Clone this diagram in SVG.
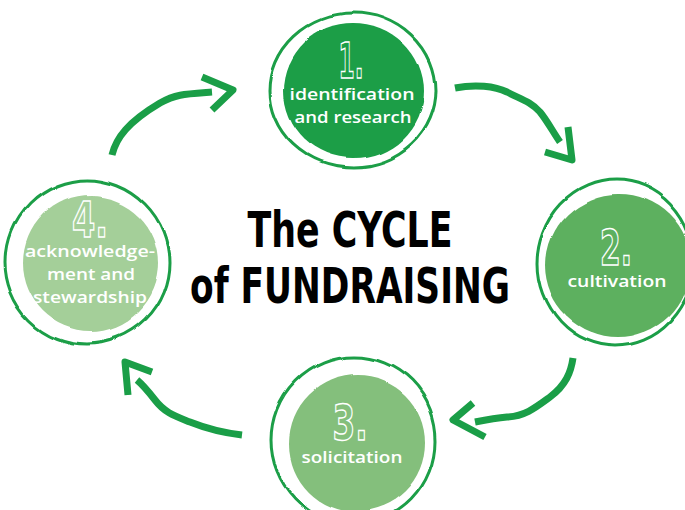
<svg xmlns="http://www.w3.org/2000/svg" width="685" height="510" viewBox="0 0 685 510">
<defs>
<filter id="wob1" x="-15%" y="-15%" width="130%" height="130%"><feTurbulence type="fractalNoise" baseFrequency="0.012" numOctaves="1" seed="4"/><feDisplacementMap in="SourceGraphic" scale="9" xChannelSelector="R" yChannelSelector="G"/></filter>
<filter id="wob2" x="-15%" y="-15%" width="130%" height="130%"><feTurbulence type="fractalNoise" baseFrequency="0.014" numOctaves="1" seed="11"/><feDisplacementMap in="SourceGraphic" scale="8" xChannelSelector="R" yChannelSelector="G"/></filter>
</defs>
<style>
.ring{fill:none;stroke:#1a9e47;stroke-width:3}
.num{font-family:"DejaVu Sans Condensed","DejaVu Sans",sans-serif;font-weight:bold;font-size:50px;stroke:#fff;stroke-width:1.5;text-anchor:middle}
.lbl{font-family:"Open Sans","Noto Sans",sans-serif;font-weight:600;font-size:16.8px;fill:#fff;text-anchor:middle}
.title{font-family:"DejaVu Sans Condensed","DejaVu Sans",sans-serif;font-weight:bold;font-size:50px;fill:#000;text-anchor:middle}
.arr{fill:none;stroke:#1a9e47;stroke-width:7;stroke-linecap:butt;stroke-linejoin:round}
</style>
<rect width="685" height="510" fill="#fff"/>
<g id="node1">
<ellipse class="ring" cx="353" cy="90" rx="82" ry="77" filter="url(#wob1)"/>
<ellipse cx="354" cy="91" rx="70" ry="67" fill="#1a9e47" filter="url(#wob2)"/>
<text class="num" x="351" y="78" fill="#1a9e47" textLength="25" lengthAdjust="spacingAndGlyphs">1.</text>
<text class="lbl" x="352" y="100" textLength="125" lengthAdjust="spacingAndGlyphs">identification</text>
<text class="lbl" x="353" y="123" textLength="117" lengthAdjust="spacingAndGlyphs">and research</text>
</g>
<g id="node2">
<ellipse class="ring" cx="615" cy="263" rx="78" ry="83" filter="url(#wob2)"/>
<ellipse cx="618" cy="266" rx="72" ry="71" fill="#5db05f" filter="url(#wob1)"/>
<text class="num" x="616" y="265" fill="#5db05f" textLength="32" lengthAdjust="spacingAndGlyphs">2.</text>
<text class="lbl" x="617" y="287" textLength="99" lengthAdjust="spacingAndGlyphs">cultivation</text>
</g>
<g id="node3">
<ellipse class="ring" cx="353" cy="440" rx="82" ry="83" filter="url(#wob1)"/>
<ellipse cx="357" cy="443" rx="68" ry="68" fill="#84bf7b" filter="url(#wob2)"/>
<text class="num" x="350" y="440" fill="#84bf7b" textLength="35" lengthAdjust="spacingAndGlyphs">3.</text>
<text class="lbl" x="352" y="463" textLength="101" lengthAdjust="spacingAndGlyphs">solicitation</text>
</g>
<g id="node4">
<ellipse class="ring" cx="87" cy="262" rx="82" ry="82" filter="url(#wob2)"/>
<ellipse cx="90" cy="263" rx="68" ry="68" fill="#a4cf99" filter="url(#wob1)"/>
<text class="num" x="90" y="237" fill="#a4cf99" textLength="36" lengthAdjust="spacingAndGlyphs">4.</text>
<text class="lbl" x="90" y="257" textLength="130" lengthAdjust="spacingAndGlyphs">acknowledge-</text>
<text class="lbl" x="91" y="280" textLength="88" lengthAdjust="spacingAndGlyphs">ment and</text>
<text class="lbl" x="90" y="303" textLength="114" lengthAdjust="spacingAndGlyphs">stewardship</text>
</g>
<g id="title">
<text class="title" x="350" y="247" textLength="205" lengthAdjust="spacingAndGlyphs">The CYCLE</text>
<text class="title" x="350" y="303" textLength="320" lengthAdjust="spacingAndGlyphs">of FUNDRAISING</text>
</g>
<g id="connectors">
<path class="arr" d="M112,155 C116,138 128,122 160,103 C176,94 185,94 212,92"/>
<path class="arr" d="M202,77 L233,90 L212,110"/>
<path class="arr" d="M455,88 C475,84 495,86 507,92 C520,99 530,101 540,112 C548,122 553,132 560,142"/>
<path class="arr" d="M568,127 L572,160 L545,152"/>
<path class="arr" d="M573,358 C571,372 566,385 550,397 C535,408 525,416 507,417 C495,418 485,420 475,422"/>
<path class="arr" d="M473,403 L453,420 L485,437"/>
<path class="arr" d="M242,435 C225,433 210,430 190,422 C175,416 165,413 155,400 C148,391 143,385 137,380"/>
<path class="arr" d="M128,395 L125,362 L152,372"/>
</g>
</svg>
